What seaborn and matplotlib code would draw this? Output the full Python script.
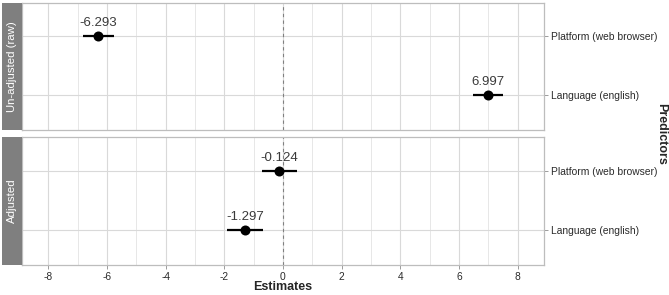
import numpy as np
import pandas as pd
import matplotlib
matplotlib.use('Agg')
import matplotlib.pyplot as plt
import seaborn as sns
from matplotlib.patches import Rectangle

# ===============================
# Data
# ===============================
predictors = ['Language (english)', 'Platform (web browser)']
models = ['Un-adjusted (raw)', 'Adjusted']

raw_est = [6.997, -6.293]
raw_lo = [6.49, -6.82]
raw_hi = [7.50, -5.76]

adj_est = [-1.297, -0.124]
adj_lo = [-1.91, -0.73]
adj_hi = [-0.68, 0.48]

df = pd.DataFrame({
    'model': [models[0]] * 2 + [models[1]] * 2,
    'term': predictors * 2,
    'estimate': raw_est + adj_est,
    'conf_low': raw_lo + adj_lo,
    'conf_high': raw_hi + adj_hi,
})
df['ypos'] = df['term'].map({t: i for i, t in enumerate(predictors)})

sns.set_theme(style='whitegrid')
plt.rcParams['font.family'] = ['Liberation Sans', 'DejaVu Sans']
plt.rcParams['axes.unicode_minus'] = False

W, H = 669, 295
fig = plt.figure(figsize=(W / 100, H / 100), dpi=100)

# panel boxes in pixels: (top, bottom)
panels = [(3, 130), (137, 265)]
left_px, right_px, strip_px = 22, 544, 20

for i, (m, (top, bot)) in enumerate(zip(models, panels)):
    ax = fig.add_axes([left_px / W, 1 - bot / H, (right_px - left_px) / W, (bot - top) / H])
    sub = df[df['model'] == m]

    ax.axvline(0, color='#808080', linestyle=(0, (3, 3)), linewidth=0.8, zorder=1)
    ax.hlines(sub['ypos'], sub['conf_low'], sub['conf_high'], color='black', linewidth=1.6, zorder=3)
    sns.scatterplot(data=sub, x='estimate', y='ypos', color='black', s=52, edgecolor='black',
                    linewidth=0, ax=ax, zorder=4, legend=False)
    for _, r in sub.iterrows():
        ax.text(r['estimate'], r['ypos'] + 0.12, f"{r['estimate']:.3f}", ha='center', va='bottom',
                fontsize=9.5, color='#3a3a3a', zorder=5)

    ax.set_xlim(-8.9, 8.9)
    ax.set_ylim(-0.6, 1.57)
    ax.set_xticks(np.arange(-8, 9, 2))
    ax.set_xticks(np.arange(-7, 8, 2), minor=True)
    ax.set_yticks(range(len(predictors)))
    ax.set_yticklabels(predictors)
    ax.yaxis.tick_right()
    ax.grid(True, which='major', color='#d9d9d9', linewidth=0.8)
    ax.grid(True, which='minor', axis='x', color='#e3e3e3', linewidth=0.6)
    ax.set_axisbelow(True)
    ax.tick_params(axis='both', which='major', length=3, width=0.6, color='#8c8c8c',
                   labelsize=7.4, labelcolor='#2b2b2b', pad=2)
    ax.tick_params(axis='both', which='minor', length=0)
    ax.tick_params(axis='y', left=False, right=True)
    ax.set_xlabel('')
    ax.set_ylabel('')
    for s in ax.spines.values():
        s.set_color('#bdbdbd')
        s.set_linewidth(0.9)
    if i == 0:
        ax.tick_params(axis='x', labelbottom=False, bottom=False)
    else:
        ax.tick_params(axis='x', bottom=True)

    # facet strip on the left
    fig.patches.append(Rectangle(((left_px - strip_px) / W, 1 - bot / H), strip_px / W, (bot - top) / H,
                                 transform=fig.transFigure, facecolor='#7f7f7f', edgecolor='none'))
    fig.text((left_px - strip_px / 2) / W, 1 - (top + bot) / 2 / H, m, rotation=90, ha='center',
             va='center', color='white', fontsize=8.2)

fig.text(283 / W, 1 - 287 / H, 'Estimates', ha='center', va='center', fontsize=9, fontweight='bold')
fig.text(661 / W, 1 - 134 / H, 'Predictors', ha='center', va='center', rotation=-90,
         fontsize=9, fontweight='bold')

fig.savefig('out.png', dpi=100)
